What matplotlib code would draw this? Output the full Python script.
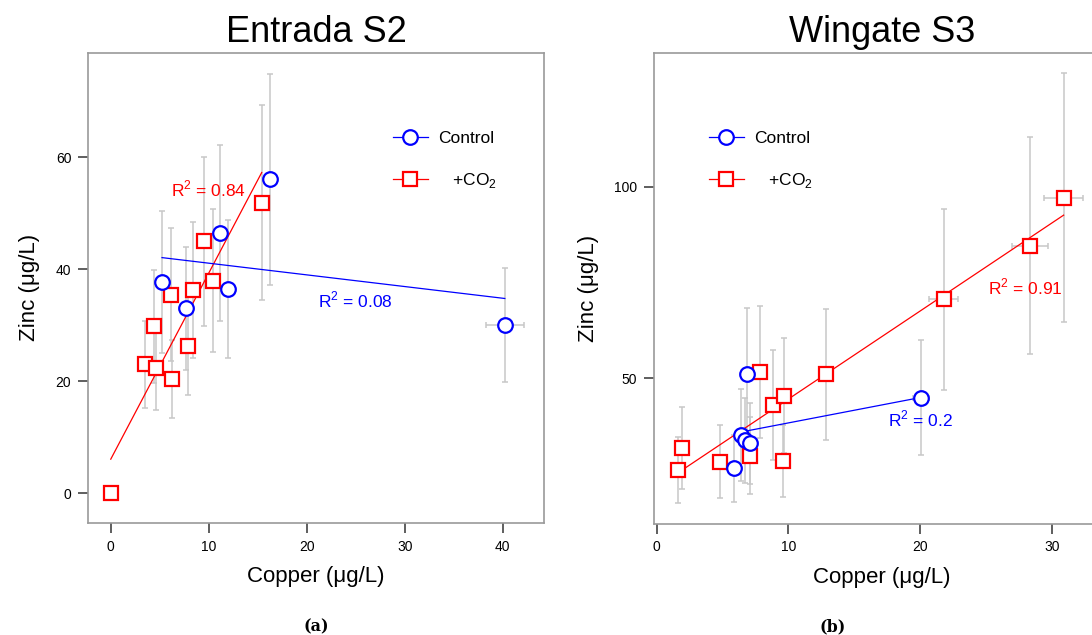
import matplotlib
matplotlib.use("Agg")
import matplotlib.pyplot as plt
from matplotlib.lines import Line2D

plt.rcParams['font.family'] = ['Liberation Sans', 'DejaVu Sans']
plt.rcParams['mathtext.fontset'] = 'custom'
plt.rcParams['mathtext.rm'] = 'Liberation Sans'

# ---- Panel (a): Entrada S2 ----
a_ctrl_x = [16.25, 11.18, 5.23, 11.94, 7.71, 40.2]
a_ctrl_y = [56.1, 46.5, 37.8, 36.5, 33.05, 30.07]
a_ctrl_xerr = [0.2, 0.2, 0.2, 0.2, 0.2, 1.95]
a_ctrl_yerr = [18.85, 15.65, 12.7, 12.35, 11.0, 10.15]

a_co2_x = [0.0, 3.53, 4.59, 4.45, 6.26, 6.12, 7.92, 8.43, 9.52, 10.4, 15.4]
a_co2_y = [0.0, 23.06, 22.4, 29.8, 20.4, 35.5, 26.4, 36.3, 45.0, 38.0, 51.9]
a_co2_xerr = [0.0, 0.2, 0.2, 0.2, 0.2, 0.2, 0.2, 0.2, 0.2, 0.2, 0.2]
a_co2_yerr = [0.0, 7.75, 7.6, 10.1, 6.9, 11.9, 8.9, 12.2, 15.15, 12.75, 17.4]

a_fit_co2_x = [0.0, 15.4]
a_fit_co2_y = [6.1, 57.3]
a_fit_ctrl_x = [5.23, 40.2]
a_fit_ctrl_y = [42.1, 34.8]

# ---- Panel (b): Wingate S3 ----
b_ctrl_x = [6.83, 6.42, 6.72, 7.08, 5.87, 20.03]
b_ctrl_y = [51.2, 35.3, 33.8, 33.0, 26.5, 44.9]
b_ctrl_xerr = [0.3, 0.3, 0.3, 0.3, 0.3, 0.6]
b_ctrl_yerr = [17.1, 12.0, 11.0, 10.5, 8.7, 15.0]

b_co2_x = [1.59, 1.90, 4.78, 7.10, 7.86, 8.82, 9.58, 9.66, 12.87, 21.78, 28.32, 30.88]
b_co2_y = [26.1, 31.9, 28.2, 29.8, 51.7, 43.0, 28.4, 45.5, 51.1, 70.6, 84.6, 97.1]
b_co2_xerr = [0.4, 0.3, 0.3, 0.3, 0.3, 0.3, 0.3, 0.3, 0.3, 1.1, 1.37, 1.48]
b_co2_yerr = [8.7, 10.7, 9.5, 10.0, 17.3, 14.3, 9.3, 14.9, 17.1, 23.6, 28.3, 32.5]

b_fit_co2_x = [1.56, 30.88]
b_fit_co2_y = [25.2, 92.6]
b_fit_ctrl_x = [6.57, 20.03]
b_fit_ctrl_y = [36.1, 45.0]

ERR_COLOR = '#c8c8c8'
SPINE_COLOR = '#9a9a9a'


def draw_panel(ax, cx, cy, cxe, cye, sx, sy, sxe, sye,
               fcx, fcy, fsx, fsy, title):
    # error bars first (grey)
    for x, y, xe, ye in [(cx, cy, cxe, cye), (sx, sy, sxe, sye)]:
        ax.errorbar(x, y, xerr=xe, yerr=ye, fmt='none', ecolor=ERR_COLOR,
                    elinewidth=1.1, capsize=2.5, capthick=1.1, zorder=1)
    # fitted lines
    ax.plot(fsx, fsy, color='red', lw=0.9, zorder=2)
    ax.plot(fcx, fcy, color='blue', lw=0.9, zorder=2)
    # points
    ax.plot(sx, sy, 's', ms=10, mfc='white', mec='red', mew=1.6, zorder=3)
    ax.plot(cx, cy, 'o', ms=10.5, mfc='white', mec='blue', mew=1.6, zorder=4)

    ax.set_title(title, fontsize=26, pad=8)
    ax.set_xlabel('Copper (μg/L)', fontsize=16, labelpad=9)
    ax.set_ylabel('Zinc (μg/L)', fontsize=16, labelpad=11)
    for s in ax.spines.values():
        s.set_color(SPINE_COLOR)
        s.set_linewidth(1.2)
    ax.tick_params(direction='out', length=7, width=1.1, color='#333333',
                   labelsize=10, pad=5)


fig = plt.figure(figsize=(10.92, 6.35), dpi=100)
ax1 = fig.add_axes([0.0806, 0.1764, 0.4176, 0.7406])
ax2 = fig.add_axes([0.5989, 0.1753, 0.4176, 0.7417])

draw_panel(ax1, a_ctrl_x, a_ctrl_y, a_ctrl_xerr, a_ctrl_yerr,
           a_co2_x, a_co2_y, a_co2_xerr, a_co2_yerr,
           a_fit_ctrl_x, a_fit_ctrl_y, a_fit_co2_x, a_fit_co2_y, 'Entrada S2')
ax1.set_xlim(-2.32, 44.2)
ax1.set_ylim(-5.3, 78.7)
ax1.set_xticks([0, 10, 20, 30, 40])
ax1.set_yticks([0, 20, 40, 60])
ax1.text(10.0, 54.4, 'R$^2$ = 0.84', color='red', fontsize=12.5, ha='center', va='center')
ax1.text(25.0, 34.5, 'R$^2$ = 0.08', color='blue', fontsize=12.5, ha='center', va='center')

draw_panel(ax2, b_ctrl_x, b_ctrl_y, b_ctrl_xerr, b_ctrl_yerr,
           b_co2_x, b_co2_y, b_co2_xerr, b_co2_yerr,
           b_fit_ctrl_x, b_fit_ctrl_y, b_fit_co2_x, b_fit_co2_y, 'Wingate S3')
ax2.set_xlim(-0.2, 34.4)
ax2.set_ylim(12.06, 135.0)
ax2.set_xticks([0, 10, 20, 30])
ax2.set_yticks([50, 100])
ax2.text(28.0, 73.9, 'R$^2$ = 0.91', color='red', fontsize=12.5, ha='center', va='center')
ax2.text(20.0, 39.3, 'R$^2$ = 0.2', color='blue', fontsize=12.5, ha='center', va='center')

handles = [
    Line2D([], [], color='blue', lw=0.9, marker='o', ms=10.5, mfc='white', mec='blue', mew=1.6),
    Line2D([], [], color='red', lw=0.9, marker='s', ms=10, mfc='white', mec='red', mew=1.6),
]
labels = ['Control', '   +CO$_2$']
for ax, x0 in [(ax1, 0.669), (ax2, 0.1206)]:
    ax.legend(handles, labels, loc='upper left', bbox_to_anchor=(x0, 0.834),
              frameon=False, fontsize=12.5, borderpad=0, borderaxespad=0,
              handlelength=2.0, handletextpad=0.6, labelspacing=1.45)

fig.text(0.2894, 0.0, '(a)', fontsize=11.5, fontweight='bold',
         family='DejaVu Serif', ha='center', va='bottom')
fig.text(0.7628, 0.0, '(b)', fontsize=11.5, fontweight='bold',
         family='DejaVu Serif', ha='center', va='bottom')

fig.savefig('out.png', dpi=100)
